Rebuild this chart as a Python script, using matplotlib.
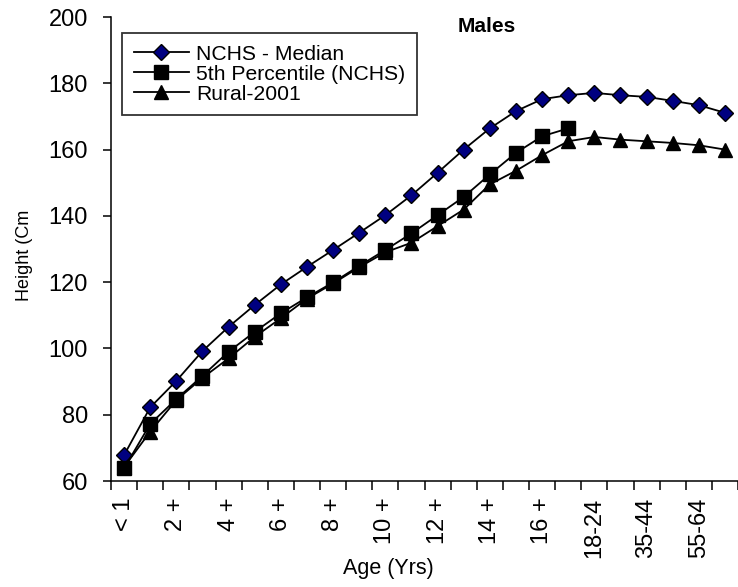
import matplotlib
matplotlib.use("Agg")
import matplotlib.pyplot as plt
import numpy as np

plt.rcParams['font.family'] = ['Liberation Sans', 'DejaVu Sans']

categories = ["< 1", "1 +", "2 +", "3 +", "4 +", "5 +", "6 +", "7 +", "8 +", "9 +",
              "10 +", "11 +", "12 +", "13 +", "14 +", "15 +", "16 +", "17 +",
              "18-24", "25-34", "35-44", "45-54", "55-64", "65+"]

nchs_median = [67.8, 82.2, 90.2, 99.2, 106.5, 113.1, 119.3, 124.6, 129.7, 134.9,
               140.2, 146.2, 153.0, 160.0, 166.4, 171.6, 175.2, 176.4,
               177.1, 176.4, 175.9, 174.7, 173.4, 171.1]
p5_nchs = [63.8, 77.2, 84.7, 91.7, 99.0, 105.0, 110.6, 115.4, 119.9, 124.9,
           129.7, 134.7, 140.2, 145.7, 152.5, 159.0, 164.0, 166.4]
rural_2001 = [64.2, 74.9, 84.4, 91.1, 97.0, 103.5, 109.1, 115.0, 119.6, 124.5,
              129.0, 131.9, 136.9, 141.9, 149.5, 153.6, 158.3, 162.5,
              163.8, 163.0, 162.5, 162.0, 161.3, 160.0]

series_labels = ["NCHS - Median", "5th Percentile (NCHS)", "Rural-2001"]
yticks = [60, 80, 100, 120, 140, 160, 180, 200]

W, H = 738, 587
fig = plt.figure(figsize=(W / 100, H / 100), dpi=100)
ax = fig.add_axes([111 / W, 1 - 481 / H, (738 - 111) / W, (481 - 17) / H])

x_all = np.arange(len(categories))
lw = 1.3
ax.plot(x_all, nchs_median, color='black', lw=lw, marker='D', markersize=8.5,
        markerfacecolor='#000080', markeredgecolor='black', markeredgewidth=1.0,
        label=series_labels[0], zorder=3)
ax.plot(x_all[:len(p5_nchs)], p5_nchs, color='black', lw=lw, marker='s', markersize=9.5,
        markerfacecolor='black', markeredgecolor='black', label=series_labels[1], zorder=3)
ax.plot(x_all, rural_2001, color='black', lw=lw, marker='^', markersize=9.5,
        markerfacecolor='black', markeredgecolor='black', label=series_labels[2], zorder=2)

ax.set_xlim(-0.5, len(categories) - 0.5)
ax.set_ylim(60, 200)
ax.set_yticks(yticks)
ax.tick_params(axis='y', direction='out', length=6, width=1.1, labelsize=17, pad=10.5)

ax.set_xticks(x_all[::2])
ax.set_xticklabels(categories[::2], rotation=90, fontsize=17)
ax.set_xticks(np.arange(-0.5, len(categories), 1.0), minor=True)
ax.tick_params(axis='x', which='major', length=0, pad=12)
ax.tick_params(axis='x', which='minor', direction='out', length=6.5, width=1.1)

for s in ['top', 'right']:
    ax.spines[s].set_visible(False)
for s in ['left', 'bottom']:
    ax.spines[s].set_linewidth(1.1)

ax.set_xlabel("Age (Yrs)", fontsize=15.5)
ax.xaxis.set_label_coords((388 - 111) / 627, -(558 - 481) / 464)
ax.set_ylabel("Height (Cm", fontsize=13)
ax.yaxis.set_label_coords((33 - 111) / 627, (481 - 255) / 464)

fig.text(487 / W, 1 - 27 / H, "Males", fontsize=15, fontweight='bold', ha='center', va='center')

leg = ax.legend(loc='upper left', bbox_to_anchor=((122 - 111) / 627, 1 - (33 - 17) / 464),
                fontsize=15.2, frameon=True, fancybox=False, edgecolor='black',
                handlelength=2.6, handletextpad=0.35, labelspacing=0.05,
                borderpad=0.55, borderaxespad=0)
leg.get_frame().set_linewidth(1.3)

fig.savefig("out.png", dpi=100)
